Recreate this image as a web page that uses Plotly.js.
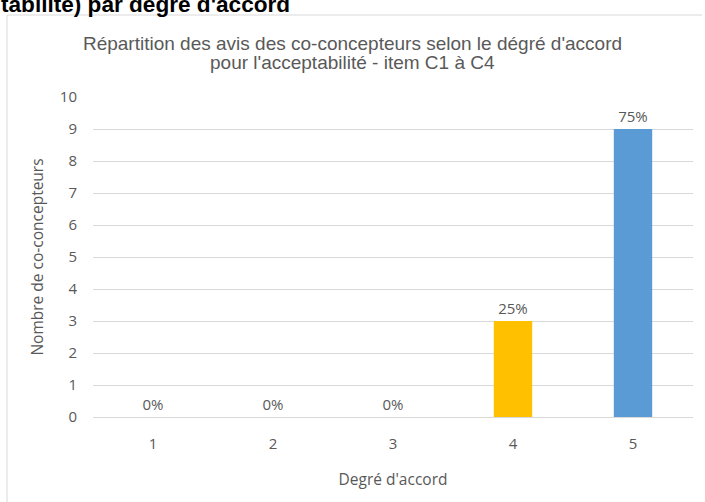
<!DOCTYPE html>
<html>
<head>
<meta charset="utf-8">
<script src="https://cdn.plot.ly/plotly-3.0.1.min.js"></script>
<style>
  html, body { margin: 0; padding: 0; background: #ffffff; }
  #chart { width: 705px; height: 502px; }
</style>
</head>
<body>
<div id="chart"></div>
<script>
// Data
const categories = ["1", "2", "3", "4", "5"];
const counts = [0, 0, 0, 3, 9];
const barColors = ["#5B9BD5", "#5B9BD5", "#5B9BD5", "#FFC000", "#5B9BD5"];
const yTicks = [0, 1, 2, 3, 4, 5, 6, 7, 8, 9, 10];
const titleLine1 = "Répartition des avis des co-concepteurs selon le dégré d'accord";
const titleLine2 = "pour l'acceptabilité - item C1 à C4";
const headerText = "tabilité) par degré d'accord";

const total = counts.reduce((a, b) => a + b, 0);
const labels = counts.map(v => Math.round(100 * v / total) + "%");

const W = 705, H = 502;
const M = { l: 93, r: 12, t: 97, b: 85 };
const pw = W - M.l - M.r, ph = H - M.t - M.b;
const px = x => (x - M.l) / pw;
const py = y => (H - M.b - y) / ph;

const textColor = "#595959";
const tickFont = { family: "Open Sans, Noto Sans, sans-serif", size: 15, color: textColor };
const axisTitleFont = { family: "Open Sans, Noto Sans, sans-serif", size: 15.5, color: textColor };
const titleFont = { family: "Liberation Sans, Arial, sans-serif", size: 19, color: textColor };

const trace = {
  type: "bar",
  x: categories,
  y: counts,
  marker: { color: barColors },
  text: labels,
  textposition: "outside",
  cliponaxis: false,
  textfont: tickFont,
  hoverinfo: "none"
};

const layout = {
  width: W,
  height: H,
  margin: M,
  paper_bgcolor: "#ffffff",
  plot_bgcolor: "#ffffff",
  showlegend: false,
  bargap: 0.68,
  title: {
    text: titleLine1,
    font: titleFont,
    x: 0.5, xref: "container", xanchor: "center",
    y: 1 - 43.5 / H, yref: "container", yanchor: "middle"
  },
  xaxis: {
    type: "category",
    tickfont: tickFont,
    ticks: "outside", ticklen: 13, tickcolor: "rgba(0,0,0,0)",
    showgrid: false,
    showline: false,
    zeroline: false,
    title: { text: "Degré d'accord", font: axisTitleFont, standoff: 22 }
  },
  yaxis: {
    range: [0, 10],
    tickvals: yTicks,
    tickfont: tickFont,
    ticks: "outside", ticklen: 12, tickcolor: "rgba(0,0,0,0)",
    showgrid: true, gridcolor: "#d9d9d9", gridwidth: 1,
    zeroline: true, zerolinecolor: "#d9d9d9", zerolinewidth: 1,
    showline: false,
    title: { text: "Nombre de co-concepteurs", font: axisTitleFont, standoff: 12 }
  },
  shapes: [
    { type: "line", xref: "paper", yref: "paper", x0: px(7), x1: px(7), y0: py(15), y1: py(502), line: { color: "#d9d9d9", width: 1 } },
    { type: "line", xref: "paper", yref: "paper", x0: px(7), x1: px(702), y0: py(15), y1: py(15), line: { color: "#d9d9d9", width: 1 } }
  ],
  annotations: [
    {
      text: titleLine2,
      xref: "paper", yref: "paper",
      x: px(352.5), y: py(62),
      xanchor: "center", yanchor: "middle",
      showarrow: false,
      font: titleFont
    },
    {
      text: "<b>" + headerText + "</b>",
      xref: "paper", yref: "paper",
      x: px(-1), y: py(19),
      xanchor: "left", yanchor: "bottom",
      showarrow: false,
      font: { family: "Liberation Sans, Arial, sans-serif", size: 22.6, color: "#000000" }
    }
  ]
};

Plotly.newPlot("chart", [trace], layout, { staticPlot: true, displayModeBar: false });
</script>
</body>
</html>
